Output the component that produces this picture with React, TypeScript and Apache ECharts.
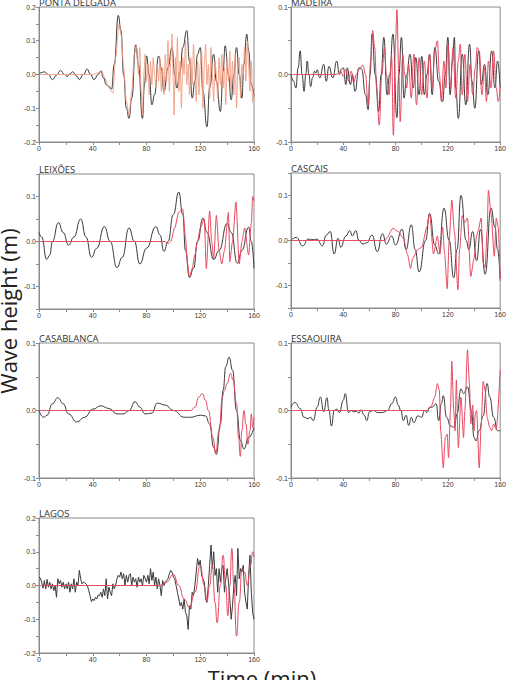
import React, { useEffect, useRef } from 'react';
import * as echarts from 'echarts';

type P = [number, number][];

const panelNames = ['PONTA DELGADA', 'MADEIRA', 'LEIXÕES', 'CASCAIS', 'CASABLANCA', 'ESSAOUIRA', 'LAGOS'];
const yLimits = [0.2, 0.1, 0.15, 0.15, 0.1, 0.1, 0.2];
const xMax = 160;

const pontaDelgadaObs: P = [[0,0],[2,0.006],[4,0.008],[7,0],[10,-0.015],[13,-0.002],[16,0.012],[19,0],[21,-0.006],[23,0.002],[25,0.008],[28,-0.005],[30,-0.015],[33,0],[36,0.016],[38,0.002],[41,-0.015],[44,0],[46,0.01],[48,-0.01],[50,-0.03],[52,-0.035],[54,-0.043],[56,0.03],[59,0.175],[61,0.13],[63,0.0],[65,-0.1],[67,-0.13],[69,-0.07],[72,0.088],[74,0.03],[77,-0.13],[78.5,-0.03],[80,0.055],[82,0.0],[84,-0.09],[86,-0.06],[89,0.055],[91,0.02],[93,-0.05],[96,0.02],[99,0.08],[101,0.0],[102.5,-0.04],[105,0.01],[107,0.08],[110,0.13],[112,0.04],[114,-0.07],[116,-0.02],[118,0.06],[120,0.08],[122,-0.05],[125,-0.155],[127,-0.04],[130,0.06],[132,-0.02],[135,-0.11],[137,0.01],[138.5,0.085],[141,0.0],[143,-0.075],[145,0.0],[147,0.08],[149,0.0],[151,-0.07],[152.5,0.03],[154.6,0.12],[156,0.07],[158,-0.03],[160,-0.065]];
const pontaDelgadaSim: P = [[0,0],[30,0],[40,0.0],[44,0.005],[46.5,0.012],[49,-0.01],[52,-0.04],[55,-0.055],[57,0.05],[59.5,0.15],[61,0.12],[63,0.02],[65,-0.08],[67,-0.12],[69,-0.05],[71,0.06],[72.5,0.085],[74,0.0],[75,0.08],[76,-0.05],[77,-0.12],[78,0.0],[79,0.06],[80,-0.02],[81,0.03],[82,-0.06],[83,0.04],[84,-0.03],[85,0.05],[86,0.0],[87,-0.04],[88,0.03],[89,-0.02],[90,0.05],[91,-0.05],[92,0.02],[93,-0.06],[94,0.06],[95,-0.02],[96,0.1],[97,-0.05],[98,0.04],[99,0.12],[100,-0.03],[100.5,-0.12],[101.5,0.05],[102,-0.02],[103,0.11],[104,-0.05],[105,0.04],[106,-0.1],[107,0.05],[108,0.0],[109,0.1],[110,-0.03],[111,0.03],[112,-0.06],[113,0.05],[114,-0.03],[115,0.09],[116,0.0],[117,-0.08],[118,0.04],[119,-0.06],[120,0.03],[121,0.07],[122,-0.1],[123,0.02],[124,0.09],[125,-0.03],[126,0.03],[127,-0.07],[128,0.08],[129,0.0],[130,-0.08],[131,0.04],[132,0.0],[133,-0.07],[134,0.05],[135,-0.03],[136,0.06],[137,-0.04],[138,0.02],[139,-0.09],[140,0.05],[141,-0.02],[142,0.07],[143,-0.05],[144,0.04],[145,-0.06],[146,0.06],[147,-0.1],[148,0.02],[149,0.05],[150,-0.07],[151,0.03],[152,0.0],[153,0.08],[154,-0.02],[155,0.1],[156,0.02],[157,-0.05],[158,0.04],[159,-0.08],[160,-0.05]];

const madeiraObs: P = [[0,0],[2,-0.01],[3.7,-0.02],[5.5,0.01],[7,0.035],[8.5,0.0],[10,-0.025],[11.3,0.0],[12.4,0.02],[13.7,0.0],[15,-0.018],[16.5,-0.005],[18,0.005],[19,0.002],[20,0.007],[22,-0.005],[25,0.015],[27,-0.01],[29,0.012],[32,-0.005],[35,0.02],[37,0.0],[38.5,0.008],[40,0.01],[42,-0.015],[43,0.01],[45.5,-0.015],[47,0.0],[49,-0.025],[52,0.01],[54,0.008],[57,-0.03],[59,-0.052],[60.5,0.0],[62,0.06],[64.5,0.0],[67,-0.055],[69,0.0],[71,0.055],[73.5,-0.03],[75.5,0.0],[78,0.06],[81,-0.064],[82.5,0.0],[84.5,0.055],[86.5,-0.035],[88.5,0.0],[91,0.03],[93.5,-0.02],[95.5,0.025],[98,-0.03],[100,0.027],[102,-0.03],[104,0.0],[106,0.03],[108,-0.03],[110,0.04],[113,-0.01],[116,-0.04],[118,0.0],[120,0.055],[121.7,-0.03],[123.5,0.02],[125,0.055],[126,-0.02],[128,-0.065],[131,0.03],[133.7,-0.045],[136.6,0.045],[138.5,-0.01],[140.6,-0.05],[143.6,0.035],[145.6,-0.015],[148,0.015],[150.6,-0.03],[153.5,0.035],[156,-0.02],[158,0.02],[160,-0.02]];
const madeiraSim: P = [[0,0],[35,0],[38,0.005],[40,-0.003],[42,0.008],[44,-0.01],[46,0.005],[48,-0.012],[50,0.0],[52,0.008],[55,0.014],[57,0.0],[59,-0.045],[61,0.02],[62.5,0.065],[64,0.04],[65.5,-0.02],[67.5,-0.075],[69.5,0.0],[71.5,0.04],[73,0.0],[75,-0.03],[77,0.025],[78.3,-0.09],[80,0.05],[81,0.096],[82.5,0.0],[83.5,-0.07],[85.5,0.03],[87,0.0],[88.5,-0.02],[90,0.015],[92,-0.035],[94,0.03],[96,-0.045],[98,0.025],[100,-0.03],[102,0.02],[104,-0.035],[106,0.03],[108,-0.02],[110,0.035],[112,0.05],[113.5,0.0],[115,-0.04],[117,0.02],[118.5,-0.02],[120,0.045],[122,-0.02],[124,0.04],[126,-0.035],[128,0.02],[129.5,0.045],[131,-0.03],[133,0.03],[135,-0.04],[137,0.015],[139,-0.03],[141,0.01],[142.5,0.04],[144,0.035],[146,-0.03],[148,0.01],[149.5,-0.04],[151,0.02],[153,-0.02],[155,0.035],[157,-0.02],[158.5,-0.04],[160,-0.02]];

const leixoesObs: P = [[0,0.02],[2,0.01],[5.7,-0.04],[8,-0.03],[10,0.0],[14.4,0.042],[18,0.02],[22,-0.008],[26,0.01],[31,0.05],[35,0.01],[39,-0.035],[43,-0.015],[48.6,0.033],[53,0.0],[58,-0.058],[62,-0.035],[67,0.03],[71,0.0],[75,-0.05],[80,-0.015],[87,0.033],[90,0.015],[93,-0.022],[96,0.0],[100,0.06],[104,0.11],[107,0.06],[109,-0.02],[112,-0.08],[115,-0.06],[118,0.0],[122,0.052],[125,0.02],[130,-0.04],[134,-0.02],[140,0.04],[143,0.02],[147.6,-0.048],[151,-0.02],[156,0.032],[158,0.0],[160,-0.06]];
const leixoesSim: P = [[0,0],[94,0],[96,-0.005],[98,0.0],[101,0.03],[104,0.065],[107,0.072],[109,0.01],[110.5,-0.05],[112,-0.08],[114,-0.06],[116,-0.03],[118,0.0],[120,0.03],[123,0.05],[124.5,-0.06],[127,0.068],[128.5,0.0],[130,-0.04],[132,0.058],[134,-0.02],[136,-0.05],[138,-0.02],[141,0.065],[142,-0.045],[144,0.0],[146.6,0.088],[149,-0.05],[151,0.0],[153,0.03],[156,-0.03],[158,0.04],[159,0.1],[160,0.09]];

const cascaisObs: P = [[0,0],[4,0.007],[9,-0.012],[13,0.003],[17,0.002],[20,0.003],[24,-0.012],[27,0.012],[30,0.02],[33,-0.03],[36,0.005],[38,-0.015],[42,0.01],[45,0.022],[47,0.01],[49.5,0.022],[52,0.0],[55,-0.008],[58,-0.005],[62,0.012],[66,-0.025],[70,0.015],[73,-0.008],[77,0.01],[80,-0.01],[85,0.025],[88,-0.02],[92,0.035],[95,-0.02],[98,-0.07],[103,0.0],[106,0.06],[110,-0.01],[113,-0.03],[117,0.072],[121,0.0],[124.5,-0.083],[127,-0.02],[130,0.1],[134,0.0],[136,-0.02],[139,0.02],[142,-0.045],[145,0.025],[148.5,-0.075],[153,0.072],[156,0.03],[158,-0.02],[160,-0.085]];
const cascaisSim: P = [[0,0],[72,0],[73,0.005],[78,0.027],[82,0.02],[86,0.005],[89,-0.03],[91.5,-0.062],[93,-0.04],[97,-0.02],[100,-0.015],[104,0.03],[106,0.06],[109,-0.03],[112,0.01],[114,-0.03],[116,0.03],[117.5,-0.03],[119.5,-0.107],[121,0.0],[123,0.09],[125,0.02],[127.7,-0.11],[129,-0.02],[131,0.055],[133,0.04],[135,0.05],[137.5,-0.08],[140,-0.04],[142,0.01],[143,0.02],[145.5,0.05],[147,-0.05],[148.5,-0.06],[150,0.02],[151,0.112],[153,0.06],[155.5,-0.035],[157,0.05],[158.5,0.03],[160,-0.09]];

const casablancaObs: P = [[0,0.0],[3.5,-0.01],[6,-0.007],[10,0.01],[14,0.019],[18,0.01],[22,-0.005],[28,-0.017],[34,-0.01],[40,0.002],[46,0.007],[52,0.003],[58,-0.005],[63,-0.005],[67,0.0],[71.5,0.013],[75,0.005],[79,-0.005],[84,-0.004],[88,0.011],[94,0.008],[100,0.0],[108,-0.01],[113,-0.01],[120,-0.007],[124,-0.008],[127,-0.02],[130,-0.055],[132,-0.065],[135,-0.02],[137,0.03],[139,0.065],[141.5,0.079],[144,0.06],[147,0.0],[150,-0.045],[152.5,-0.057],[156,-0.04],[160,-0.025]];
const casablancaSim: P = [[0,0],[113,0],[116,0.005],[119,0.02],[121.5,0.025],[124,0.015],[126,0.0],[129.5,-0.04],[131.5,-0.063],[134,-0.03],[136.5,0.02],[138,0.03],[140,0.04],[142.5,0.055],[144.5,0.045],[147,0.01],[148.5,-0.04],[149.8,-0.068],[151,-0.03],[152.5,0.0],[154,-0.02],[155.5,-0.05],[157,-0.03],[158,-0.005],[159,-0.025],[160,-0.01]];

const essaouiraObs: P = [[0,0.005],[3,0.012],[7,0.003],[10,-0.01],[13,-0.012],[15,-0.01],[17,-0.015],[20,0.005],[22.5,0.02],[25,-0.002],[27.5,0.019],[29,0.0],[31,-0.023],[33,0.0],[35,0.002],[37,-0.003],[40,0.015],[41.5,0.025],[44,-0.003],[46,0.0],[48,-0.002],[50,-0.001],[52,-0.004],[53.5,0.001],[56,-0.007],[58,-0.015],[60,-0.002],[63,0.0],[66,-0.003],[70,-0.003],[74,0.0],[77,0.01],[80,0.02],[82,0.008],[84,0.0],[86,-0.015],[88,-0.007],[90,-0.022],[92,-0.01],[94,-0.018],[97,-0.008],[100,-0.01],[102,0.0],[104,-0.003],[106,0.005],[108,0.005],[111,0.01],[113,-0.015],[115,0.01],[116.5,0.022],[119,-0.01],[122,-0.023],[125,-0.025],[127,-0.005],[130,0.032],[132,0.025],[135,0.035],[138,0.0],[140,-0.04],[141.5,-0.045],[144,-0.03],[147,-0.008],[150,0.04],[152,0.02],[155,-0.01],[158,-0.03],[160,-0.03]];
const essaouiraSim: P = [[0,0],[104,0],[107,0.005],[110,0.02],[112,0.04],[113.5,0.03],[114.5,-0.03],[116.5,-0.085],[118,-0.04],[119.5,-0.035],[120.5,-0.07],[122,0.0],[123,0.073],[124.5,0.0],[125.5,-0.03],[126.5,0.045],[128,-0.055],[130,0.02],[132,-0.04],[133,0.0],[135,0.09],[136.5,0.04],[137.5,-0.02],[139,0.008],[140,-0.03],[141,-0.005],[142,0.0],[144,-0.085],[145.5,-0.02],[147,0.043],[148.5,0.03],[150,-0.01],[152,-0.025],[153.5,-0.03],[155,-0.02],[157,-0.028],[160,0.06]];

const lagosObsValues: number[] = [
  0.025,0.022,0.01,-0.008,0.015,-0.01,0.018,-0.005,0.01,-0.01,
  0.005,-0.015,0.0,-0.035,0.02,0.005,0.015,-0.005,0.01,-0.01,
  0.005,-0.01,0.01,-0.02,0.005,-0.01,0.02,-0.02,0.01,0.0,
  0.045,0.02,0.005,0.01,0.008,0.005,0.0,-0.015,-0.03,-0.048,
  -0.04,-0.045,-0.035,-0.04,-0.028,-0.03,-0.02,-0.035,-0.01,-0.03,
  0.02,-0.04,-0.005,-0.02,-0.03,0.005,-0.01,0.0,0.02,0.03,
  0.025,0.04,0.02,0.035,0.0,0.03,0.01,0.03,0.035,0.0,
  0.025,0.01,0.02,-0.005,0.025,0.01,0.02,0.0,0.03,0.02,
  0.01,0.03,0.005,0.05,0.015,0.04,0.0,0.025,-0.01,0.02,
  0.0,-0.03,0.015,0.0,0.01,0.015,0.02,0.035,0.045,0.04,
  0.025,0.02,0.0,-0.02,-0.04,-0.06,-0.05,-0.07,-0.04,-0.08,
  -0.09,-0.13,-0.06,-0.07,-0.02,-0.03,0.0,0.04,0.08,0.06,
  0.075,0.03,0.02,0.01,-0.04,-0.05,0.0,0.06,0.12,0.05,
  0.1,0.03,0.05,-0.02,0.05,0.01,0.05,0.06,-0.02,0.02,
  0.05,0.01,-0.04,-0.1,-0.06,0.0,0.03,-0.03,0.11,0.02,
  0.05,0.04,0.06,-0.02,-0.05,-0.07,0.03,0.09,-0.02,-0.08,
  -0.1,
];
const lagosSim: P = [[0,0],[90,0],[95,0.01],[100,0.033],[104,0.0],[108,-0.04],[112,-0.065],[116,-0.02],[120,0.06],[123,0.0],[125,-0.045],[127,0.0],[129,0.06],[131,-0.05],[132.5,-0.11],[135,0.0],[137,0.09],[139,0.0],[140.5,-0.09],[142,0.0],[143.5,0.11],[145,0.0],[147,-0.15],[149,-0.05],[151,0.05],[153,0.04],[155,0.0],[157.5,0.06],[159,0.1],[160,0.085]];

const lagosObs: P = lagosObsValues.map((v, i) => [i, v]);

const observed: P[] = [pontaDelgadaObs, madeiraObs, leixoesObs, cascaisObs, casablancaObs, essaouiraObs, lagosObs];
const simulated: P[] = [pontaDelgadaSim, madeiraSim, leixoesSim, cascaisSim, casablancaSim, essaouiraSim, lagosSim];

const GRID_POS = [
  { left: 39, top: 7 }, { left: 291, top: 7 },
  { left: 39, top: 174 }, { left: 291, top: 173 },
  { left: 39, top: 343 }, { left: 291, top: 343 },
  { left: 39, top: 518 },
];
const GW = 215;
const GH = 135;
const AXIS_COLOR = '#8a8a8a';
const LABEL_COLOR = '#3a3a3a';
const TICK_FONT = 'Liberation Sans, Arial, sans-serif';
const TITLE_FONT = 'Open Sans, Noto Sans, sans-serif';

export default function App() {
  const ref = useRef<HTMLDivElement>(null);
  useEffect(() => {
    if (!ref.current) return;
    const chart = echarts.init(ref.current, undefined, { renderer: 'svg' });
    const grids: any[] = [];
    const xAxes: any[] = [];
    const yAxes: any[] = [];
    const series: any[] = [];
    const graphics: any[] = [];
    panelNames.forEach((name, i) => {
      const g = GRID_POS[i];
      grids.push({ left: g.left, top: g.top, width: GW, height: GH, show: true, borderColor: AXIS_COLOR, borderWidth: 1, containLabel: false });
      xAxes.push({
        type: 'value', gridIndex: i, min: 0, max: xMax, interval: 20,
        axisLine: { show: true, onZero: false, lineStyle: { color: AXIS_COLOR, width: 1 } },
        axisTick: { show: true, inside: false, length: 3, lineStyle: { color: AXIS_COLOR } },
        axisLabel: { fontSize: 7, color: LABEL_COLOR, fontFamily: TICK_FONT, margin: 3,
          formatter: (v: number) => (Math.round(v) % 40 === 0 ? String(Math.round(v)) : '') },
        splitLine: { show: false },
      });
      const lim = yLimits[i];
      yAxes.push({
        type: 'value', gridIndex: i, min: -lim, max: lim, interval: 0.05,
        axisLine: { show: true, onZero: false, lineStyle: { color: AXIS_COLOR, width: 1 } },
        axisTick: { show: true, inside: false, length: 3, lineStyle: { color: AXIS_COLOR } },
        axisLabel: { fontSize: 7, color: LABEL_COLOR, fontFamily: TICK_FONT, margin: 3,
          formatter: (v: number) => {
            const k = Math.round(v * 100);
            if (k % 10 !== 0) return '';
            const r = k / 100;
            return (r === 0 ? 0 : r).toFixed(1);
          } },
        splitLine: { show: false },
      });
      const smoothObs = i === 6 ? false : 0.5;
      const smoothSim = i === 4 || i === 6 ? 0.5 : (i === 1 ? 0.4 : 0.25);
      series.push({
        type: 'line', xAxisIndex: i, yAxisIndex: i, data: observed[i], showSymbol: false, symbol: 'none',
        smooth: smoothObs, smoothMonotone: 'x', lineStyle: { color: '#3a3a3a', width: 1 }, z: 2,
      });
      series.push({
        type: 'line', xAxisIndex: i, yAxisIndex: i, data: simulated[i], showSymbol: false, symbol: 'none',
        smooth: smoothSim, smoothMonotone: 'x', lineStyle: { color: i === 0 ? '#f29c80' : '#e8485f', width: i === 0 ? 0.9 : 1 }, z: 3,
      });
      graphics.push({
        type: 'text', x: g.left, y: g.top,
        style: { text: name, fontSize: 9.5, fill: '#333', fontFamily: TITLE_FONT, textVerticalAlign: 'bottom', textAlign: 'left' },
      });
    });
    graphics.push({
      type: 'text', x: 8, y: 311, rotation: Math.PI / 2,
      style: { text: 'Wave height (m)', fontSize: 22, fill: '#222', fontFamily: TITLE_FONT, textAlign: 'center', textVerticalAlign: 'middle' },
    });
    graphics.push({
      type: 'text', x: 262, y: 667,
      style: { text: 'Time (min)', fontSize: 22, fill: '#222', fontFamily: TITLE_FONT, textAlign: 'center', textVerticalAlign: 'top' },
    });
    chart.setOption({
      animation: false,
      backgroundColor: '#ffffff',
      grid: grids,
      xAxis: xAxes,
      yAxis: yAxes,
      series,
      graphic: graphics,
    });
    return () => chart.dispose();
  }, []);
  return <div ref={ref} style={{ position: 'fixed', left: 0, top: 0, width: 509, height: 680 }} />;
}
